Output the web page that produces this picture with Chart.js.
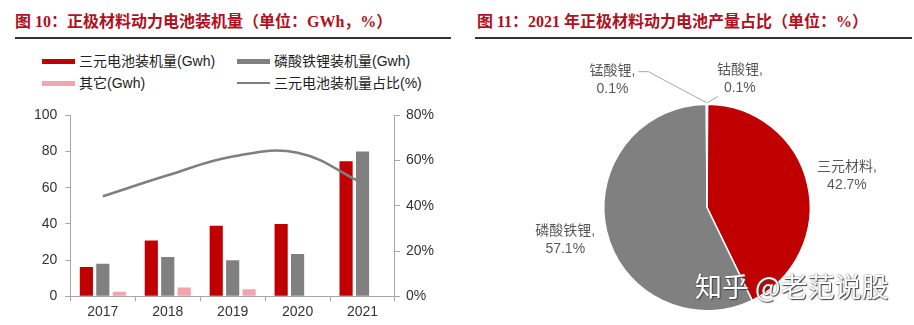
<!DOCTYPE html>
<html><head><meta charset="utf-8">
<script src="https://cdn.jsdelivr.net/npm/chart.js@4/dist/chart.umd.min.js"></script>
<style>
html,body{margin:0;padding:0;background:#fff;width:914px;height:325px;overflow:hidden;position:relative;font-family:"Liberation Sans","Noto Sans CJK SC",sans-serif;}
.title{position:absolute;top:10px;font-family:"Liberation Serif","Noto Sans CJK SC",serif;font-weight:bold;font-size:16px;color:#B01020;white-space:nowrap;line-height:24px;}
.rule{position:absolute;top:37px;height:2px;background:#333;}
#legend{position:absolute;left:0;top:0;}
.lg{position:absolute;font-size:14px;color:#222;white-space:nowrap;line-height:18px;}
.sw{position:absolute;}
#wm{position:absolute;left:695px;top:270px;font-size:27px;color:#fff;white-space:nowrap;font-family:"Noto Sans CJK SC",sans-serif;text-shadow:1px 1px 1px #444,0 0 2px #666;line-height:32px;}
#c1wrap{position:absolute;left:0;top:99px;width:457px;height:226px;}
#c2wrap{position:absolute;left:457px;top:45px;width:457px;height:280px;}
</style></head>
<body>
<div class="title" style="left:15px;">图 10：正极材料动力电池装机量（单位：GWh，%）</div>
<div class="rule" style="left:15px;width:436px;"></div>
<div class="title" style="left:477px;">图 11：2021 年正极材料动力电池产量占比（单位：%）</div>
<div class="rule" style="left:475px;width:437px;"></div>
<div id="legend"></div>
<div id="c1wrap"><canvas id="c1"></canvas></div>
<div id="c2wrap"><canvas id="c2"></canvas></div>
<div id="wm">知乎 @老范说股</div>
<script>
// ---- data ----
const years = ['2017', '2018', '2019', '2020', '2021'];
const ternaryGwh = [16.2, 30.8, 39.0, 40.0, 74.6];
const lfpGwh = [18.0, 21.7, 19.9, 23.4, 80.1];
const otherGwh = [2.4, 4.8, 3.9, 0, 0];
const ternarySharePct = [44.2, 53.5, 61.8, 63.5, 50.0];
const seriesNames = ['三元电池装机量(Gwh)', '磷酸铁锂装机量(Gwh)', '其它(Gwh)', '三元电池装机量占比(%)'];

const pieLabels = ['钴酸锂', '三元材料', '磷酸铁锂', '锰酸锂'];
const pieShares = [0.1, 42.7, 57.1, 0.1];

// ---- styles ----
const RED = '#C00000', GRAY = '#808080', PINK = '#F5A3AE', LINEGRAY = '#7F7F7F';
const AXIS = '#A6A6A6';
const FONT = '"Liberation Sans","Noto Sans CJK SC",sans-serif';

// ---- HTML legend (2x2 grid) ----
(function(){
  const lg = document.getElementById('legend');
  const cols = [42, 237], rows = [61, 83];
  const kinds = [{c:RED,t:'box'},{c:GRAY,t:'box'},{c:PINK,t:'box'},{c:LINEGRAY,t:'line'}];
  seriesNames.forEach((name, i) => {
    const x = cols[i % 2], y = rows[Math.floor(i / 2)];
    const sw = document.createElement('div');
    sw.className = 'sw';
    const h = kinds[i].t === 'box' ? 5 : 2;
    sw.style.cssText = `left:${x}px;top:${y - h/2}px;width:33px;height:${h}px;background:${kinds[i].c};`;
    lg.appendChild(sw);
    const t = document.createElement('div');
    t.className = 'lg';
    t.style.left = (x + 37) + 'px';
    t.style.top = (y - 9.5) + 'px';
    t.textContent = name;
    lg.appendChild(t);
  });
})();

// ---- left combo chart ----
new Chart(document.getElementById('c1'), {
  type: 'bar',
  data: {
    labels: years,
    datasets: [
      {type:'line', label: seriesNames[3], data: ternarySharePct, yAxisID:'y1', borderColor: LINEGRAY, borderWidth: 2.5, tension: 0.4, pointRadius: 0, fill: false, order: 0},
      {label: seriesNames[0], data: ternaryGwh, backgroundColor: RED, yAxisID:'y', order: 1, categoryPercentage: 0.76, barPercentage: 0.8},
      {label: seriesNames[1], data: lfpGwh, backgroundColor: GRAY, yAxisID:'y', order: 1, categoryPercentage: 0.76, barPercentage: 0.8},
      {label: seriesNames[2], data: otherGwh, backgroundColor: PINK, yAxisID:'y', order: 1, categoryPercentage: 0.76, barPercentage: 0.8}
    ]
  },
  options: {
    responsive: true, maintainAspectRatio: false, animation: false,
    layout: {padding: {left: 26, right: 17, top: 10, bottom: 1}},
    plugins: {legend: {display: false}, tooltip: {enabled: false}},
    scales: {
      x: {
        grid: {drawOnChartArea: false, drawTicks: true, tickLength: 5, color: AXIS, offset: true},
        border: {color: AXIS, width: 1},
        ticks: {color: '#333', font: {family: FONT, size: 14}, padding: 3}
      },
      y: {
        position: 'left', min: 0, max: 100,
        grid: {drawOnChartArea: false, drawTicks: true, tickLength: 5, color: AXIS},
        border: {color: AXIS, width: 1},
        ticks: {stepSize: 20, color: '#333', font: {family: FONT, size: 14}, padding: 8}
      },
      y1: {
        position: 'right', min: 0, max: 80,
        grid: {drawOnChartArea: false, drawTicks: true, tickLength: 5, color: AXIS},
        border: {color: AXIS, width: 1},
        ticks: {stepSize: 20, color: '#333', font: {family: FONT, size: 14}, padding: 6, callback: v => v + '%'}
      }
    }
  }
});

// ---- pie label plugin ----
const pieLabelPlugin = {
  id: 'pieLabels',
  afterDraw(chart, args, opts) {
    const ctx = chart.ctx;
    const meta = chart.getDatasetMeta(0);
    const ds = chart.data.datasets[0];
    ctx.save();
    ctx.font = `14px ${FONT}`;
    ctx.fillStyle = opts.color;
    ctx.textAlign = 'center';
    ctx.textBaseline = 'middle';
    meta.data.forEach((arc, i) => {
      const p = opts.place[i] || {};
      const mid = (arc.startAngle + arc.endAngle) / 2;
      const ang = p.angle !== undefined ? p.angle * Math.PI / 180 : mid;
      const k = p.k || 1.4;
      const cx = arc.x + Math.cos(ang) * arc.outerRadius * k;
      const cy = arc.y + Math.sin(ang) * arc.outerRadius * k;
      const l1 = chart.data.labels[i] + ',';
      const l2 = ds.data[i].toFixed(1) + '%';
      const y1 = cy - 9, y2 = cy + 9;
      ctx.fillText(l1, cx, y1);
      ctx.fillText(l2, cx, y2);
      if (p.leader) {
        const ex = arc.x + Math.cos(mid) * arc.outerRadius;
        const ey = arc.y + Math.sin(mid) * arc.outerRadius - 1.5;
        ctx.strokeStyle = opts.lineColor;
        ctx.lineWidth = 1;
        ctx.beginPath();
        if (p.leader === 'right') {
          const sx = cx + ctx.measureText(l1).width / 2 + 3;
          ctx.moveTo(sx, y1 + 1);
          ctx.lineTo(sx + 10, y1 + 1);
        } else {
          const sx = cx - ctx.measureText(l2).width / 2 - 6;
          ctx.moveTo(sx, y2 + 8);
        }
        ctx.lineTo(ex, ey);
        ctx.stroke();
      }
    });
    ctx.restore();
  }
};

// ---- right pie chart ----
new Chart(document.getElementById('c2'), {
  type: 'pie',
  data: {
    labels: pieLabels,
    datasets: [{
      data: pieShares,
      backgroundColor: ['#D9D9D9', RED, GRAY, '#BFBFBF'],
      borderColor: '#fff', borderWidth: 1.5
    }]
  },
  options: {
    responsive: true, maintainAspectRatio: false, animation: false,
    layout: {padding: {left: 146, right: 103, top: 58.5, bottom: 13.5}},
    plugins: {
      legend: {display: false}, tooltip: {enabled: false},
      pieLabels: {
        color: '#595959', lineColor: '#A6A6A6',
        place: [{angle: -75.6, k: 1.28, leader: 'below'}, {k: 1.39}, {k: 1.41}, {angle: -126.5, k: 1.54, leader: 'right'}]
      }
    }
  },
  plugins: [pieLabelPlugin]
});
</script>
</body></html>
